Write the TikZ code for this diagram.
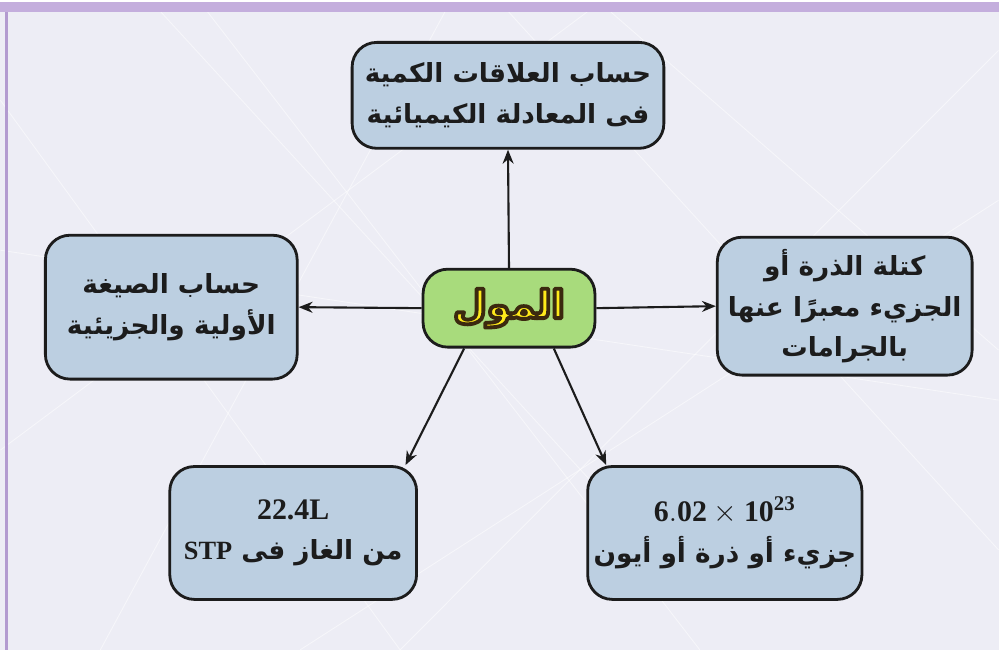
\documentclass[tikz,border=0pt]{standalone}
\usepackage{xcolor}
\usepackage{tikz}
\usepackage{fontspec}
\setmainfont{Liberation Serif}
\newfontfamily\arabicfont[Script=Arabic]{DejaVu Sans}
\newcommand{\numfont}{\rmfamily\bfseries\fontsize{17}{20}\selectfont}
% outlined text: fill, then stroke in dark brown
\newcommand{\outlined}[1]{\special{pdf:literal 0.23 0.16 0.06 RG 2.2 w 1 j 2 Tr}#1\special{pdf:literal 0 Tr}}
\TeXXeTstate=1
\usetikzlibrary{arrows.meta, calc}
\definecolor{molepage}{HTML}{EDEDF5}
\definecolor{moleband}{HTML}{C4AEDD}
\definecolor{molestrip}{HTML}{B39BD0}
\definecolor{molebox}{HTML}{BCCFE1}
\definecolor{molegreen}{HTML}{A8DB7C}
\definecolor{moleyellow}{HTML}{FFEA1A}
\definecolor{moleink}{HTML}{1C1C1C}
\tikzset{
  topic/.style={draw=moleink, line width=1.6pt, fill=molebox, rounded corners=14pt,
    align=center, font=\arabicfont\bfseries\fontsize{15}{23}\selectfont, text=moleink},
  core/.style={draw=moleink, line width=1.6pt, fill=molegreen, rounded corners=14pt,
    minimum width=3.44cm, minimum height=1.56cm, align=center},
  link/.style={draw=moleink, line width=1.2pt, -{Stealth[length=2.8mm,width=2.2mm]}}
}

\begin{document}
\begin{tikzpicture}
    % page and frame
    \fill[molepage] (0,0) rectangle (19.98,12.96);
    \foreach \a/\b/\c/\d in {0/11/8/0, 3/13/14/1, 6/0/19.98/9, 10/12.96/19.98/2, 0/4/12/12.96, 14/0/4/12.96, 0/8/19.98/5, 8/0/19.98/12, 2/0/9/12.96, 12/12.96/19.98/6}
      \draw[white, line width=0.5pt, opacity=0.5] (\a,\b) -- (\c,\d);
    \fill[moleband] (0,12.76) rectangle (19.98,12.96);
    \fill[molestrip] (0.1,0) rectangle (0.16,12.76);
    \useasboundingbox (0,0) rectangle (19.98,12.96);

    % centre
    \node[core] (mole) at (10.18,6.84)
      {\arabicfont\bfseries\fontsize{22}{24}\selectfont\color{moleyellow}\outlined{\beginR المول\endR}};

    % topics
    \node[topic, minimum width=6.24cm, minimum height=2.12cm] (equation) at (10.16,11.10)
      {\beginR حساب العلاقات الكمية\endR\\ \beginR فى المعادلة الكيميائية\endR};
    \node[topic, minimum width=5.04cm, minimum height=2.88cm] (formula) at (3.42,6.86)
      {\beginR حساب الصيغة\endR\\ \beginR الأولية والجزيئية\endR};
    \node[topic, minimum width=5.10cm, minimum height=2.76cm] (mass) at (16.90,6.88)
      {\beginR كتلة الذرة أو\endR\\ \beginR الجزيء معبرًا عنها\endR\\ \beginR بالجرامات\endR};
    \node[topic, minimum width=4.94cm, minimum height=2.66cm] (volume) at (5.86,2.34)
      {{\numfont 22.4L}\\ \beginR من الغاز فى \beginL{\rmfamily\bfseries STP}\endL\endR};
    \node[topic, minimum width=5.10cm, minimum height=2.66cm] (avogadro) at (14.50,2.34)
      {{\numfont $\mathbf{6.02\times10^{23}}$}\\ \beginR جزيء أو ذرة أو أيون\endR};

    % links
    \draw[link] (mole.north) -- (equation.south);
    \draw[link] (mole.west) -- (formula.east);
    \draw[link] (mole.east) -- (mass.west);
    \draw[link] (mole.-138) -- ($(volume.north east)+(-0.25,0)$);
    \draw[link] (mole.-42) -- ($(avogadro.north west)+(0.4,0)$);
\end{tikzpicture}
\end{document}
